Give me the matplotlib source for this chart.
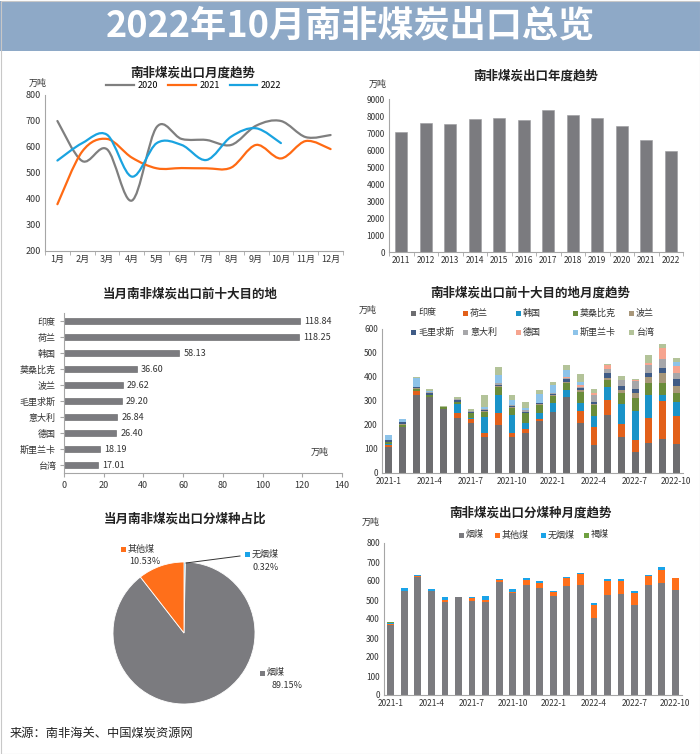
import numpy as np
import matplotlib
matplotlib.use('Agg')
import matplotlib.pyplot as plt
from matplotlib.path import Path
from matplotlib.patches import PathPatch, Rectangle
from matplotlib.lines import Line2D

plt.rcParams['font.family'] = ['Noto Sans CJK SC', 'DejaVu Sans']

W, H = 700, 754

# ---------------- data ----------------
months = ['1月', '2月', '3月', '4月', '5月', '6月', '7月', '8月', '9月', '10月', '11月', '12月']
exp_2020 = [700, 546, 591, 394, 677, 631, 627, 608, 682, 700, 638, 646]
exp_2021 = [380, 583, 631, 559, 518, 519, 518, 521, 608, 556, 623, 592]
exp_2022 = [548, 615, 647, 486, 615, 608, 550, 640, 672, 615]

years = ['2011', '2012', '2013', '2014', '2015', '2016', '2017', '2018', '2019', '2020', '2021', '2022']
annual = [7030, 7600, 7550, 7800, 7900, 7750, 8350, 8050, 7900, 7430, 6580, 5960]

dest_names = ['印度', '荷兰', '韩国', '莫桑比克', '波兰', '毛里求斯', '意大利', '德国', '斯里兰卡', '台湾']
dest_values = [118.84, 118.25, 58.13, 36.60, 29.62, 29.20, 26.84, 26.40, 18.19, 17.01]

trend_months = ['2021-1', '2021-2', '2021-3', '2021-4', '2021-5', '2021-6', '2021-7', '2021-8',
                '2021-9', '2021-10', '2021-11', '2021-12', '2022-1', '2022-2', '2022-3', '2022-4',
                '2022-5', '2022-6', '2022-7', '2022-8', '2022-9', '2022-10']
india     = [110, 190, 325, 315, 268, 230, 208, 148, 202, 148, 165, 215, 253, 317, 210, 118, 240, 150, 87, 123, 143, 118.84]
netherl   = [8, 0, 15, 0, 0, 20, 15, 20, 47, 20, 17, 8, 0, 0, 48, 73, 65, 55, 50, 107, 155, 118.25]
korea     = [3, 2, 0, 0, 0, 39, 7, 65, 78, 72, 28, 28, 37, 27, 32, 45, 52, 82, 122, 95, 27, 58.13]
mozamb    = [8, 10, 10, 10, 5, 7, 18, 22, 30, 32, 38, 32, 30, 33, 47, 48, 32, 45, 52, 52, 48, 36.60]
poland    = [2, 2, 3, 2, 0, 0, 3, 3, 5, 3, 3, 3, 5, 3, 8, 3, 8, 15, 22, 22, 45, 29.62]
mauritius = [5, 8, 5, 8, 4, 9, 4, 3, 5, 4, 5, 4, 5, 12, 10, 8, 18, 15, 18, 17, 18, 29.20]
italy     = [2, 2, 2, 3, 0, 3, 3, 5, 8, 4, 5, 2, 5, 2, 5, 30, 18, 25, 33, 35, 38, 26.84]
germany   = [0, 0, 0, 0, 0, 0, 0, 0, 0, 0, 0, 0, 0, 4, 8, 8, 17, 0, 5, 8, 48, 26.40]
srilanka  = [20, 10, 37, 3, 0, 2, 2, 10, 33, 22, 8, 38, 32, 33, 12, 2, 0, 0, 0, 0, 0, 18.19]
taiwan    = [2, 2, 2, 10, 2, 5, 7, 47, 32, 18, 26, 17, 13, 18, 33, 15, 5, 18, 2, 33, 15, 17.01]

coal_types = ['烟煤', '其他煤', '无烟煤', '褐煤']
bitum   = [367, 550, 620, 550, 490, 515, 495, 490, 597, 537, 580, 563, 523, 572, 578, 403, 527, 532, 475, 578, 588, 551]
other   = [6, 0, 8, 0, 12, 0, 18, 8, 8, 5, 24, 25, 17, 42, 57, 70, 73, 70, 63, 50, 72, 65]
anth    = [5, 15, 4, 10, 15, 3, 5, 25, 5, 17, 12, 10, 10, 6, 8, 12, 13, 8, 12, 5, 13, 2]
lignite = [6, 0, 0, 0, 0, 0, 0, 0, 0, 0, 0, 0, 0, 0, 0, 0, 0, 0, 0, 0, 0, 0]

pie_labels = ['无烟煤', '烟煤', '其他煤']
pie_values = [0.32, 89.15, 10.53]

# ---------------- styles ----------------
C_GRAY = '#7b7b7f'
C_2020 = '#7f7f7f'
C_2021 = '#ff6a13'
C_2022 = '#1aa3e0'
dest_colors = ['#6d6d70', '#e2601a', '#1a93c8', '#6a8c3a', '#a8977a',
               '#3f5b86', '#a7a7aa', '#f6a48f', '#8dc3e9', '#b3c399']
coal_colors = ['#7b7b7f', '#ff6f1a', '#1aa3e8', '#6fa040']
SPINE = '#a6a6a6'
TXT = '#333333'
TITLE_FS = 9

fig = plt.figure(figsize=(W / 100, H / 100), dpi=100)
fig.patch.set_facecolor('white')


def add_ax(x0, y0, x1, y1):
    return fig.add_axes([x0 / W, 1 - y1 / H, (x1 - x0) / W, (y1 - y0) / H])


def ftext(x, y, s, **kw):
    return fig.text(x / W, 1 - y / H, s, **kw)


def style(ax, fs=6):
    for s in ['top', 'right']:
        ax.spines[s].set_visible(False)
    for s in ['left', 'bottom']:
        ax.spines[s].set_color(SPINE)
        ax.spines[s].set_linewidth(0.8)
    ax.tick_params(axis='both', labelsize=fs, colors=TXT, length=0, pad=3)
    ax.tick_params(axis='both', which='both', color=SPINE)
    ax.set_facecolor('none')


def cat_ticks(ax, n):
    ax.set_xticks(np.arange(n + 1) - 0.5, minor=True)
    ax.tick_params(axis='x', which='minor', length=3, color=SPINE)


def fig_legend_square(x, y, color, label, fs=6.5):
    fig.add_artist(Rectangle(((x - 2.5) / W, 1 - (y + 2.5) / H), 5 / W, 5 / H,
                             transform=fig.transFigure, facecolor=color, edgecolor='none'))
    ftext(x + 5, y, label, fontsize=fs, color=TXT, va='center', ha='left')


# banner
fig.add_artist(Rectangle((0, 1 - 51 / H), 1, 50 / H, transform=fig.transFigure,
                         facecolor='#8ea9c7', edgecolor='none'))
ftext(350, 26, '2022年10月南非煤炭出口总览', fontsize=26, color='white',
      ha='center', va='center', fontweight='bold')
fig.add_artist(Rectangle((0.5 / W, 0.5 / H), (W - 1) / W, (H - 1) / H, transform=fig.transFigure,
                         facecolor='none', edgecolor='#c8c8c8', linewidth=0.8))


# ---------------- panel 1: monthly lines ----------------
def smooth_path(xs, ys):
    pts = np.column_stack([xs, ys]).astype(float)
    n = len(pts)
    verts = [pts[0]]
    codes = [Path.MOVETO]
    for i in range(n - 1):
        p0 = pts[i - 1] if i > 0 else pts[i]
        p1 = pts[i]
        p2 = pts[i + 1]
        p3 = pts[i + 2] if i + 2 < n else pts[i + 1]
        verts += [p1 + (p2 - p0) / 6, p2 - (p3 - p1) / 6, p2]
        codes += [Path.CURVE4] * 3
    return Path(verts, codes)


ax1 = add_ax(45, 95, 343, 251)
style(ax1, 6.5)
ax1.set_xlim(-0.5, 11.5)
ax1.set_ylim(200, 800)
ax1.set_yticks(np.arange(200, 801, 100))
ax1.set_xticks(np.arange(12))
ax1.set_xticklabels(months)
cat_ticks(ax1, 12)
handles = []
for vals, col, lab in [(exp_2020, C_2020, '2020'), (exp_2021, C_2021, '2021'), (exp_2022, C_2022, '2022')]:
    xs = np.arange(len(vals))
    ax1.add_patch(PathPatch(smooth_path(xs, vals), facecolor='none', edgecolor=col, linewidth=1.6,
                            capstyle='round', joinstyle='round'))
    handles.append(Line2D([], [], color=col, linewidth=1.6, label=lab))
ax1.legend(handles=handles, ncol=3, loc='lower center', bbox_to_anchor=(0.5, 1.0), frameon=False,
           fontsize=6.5, handlelength=3.0, columnspacing=1.2, borderaxespad=0.1, handletextpad=0.4)
ftext(193, 73, '南非煤炭出口月度趋势', fontsize=TITLE_FS, fontweight='bold', ha='center', va='center', color='#222222')
ftext(38, 83, '万吨', fontsize=6.5, ha='center', va='center', color=TXT)

# ---------------- panel 2: annual bars ----------------
ax2 = add_ax(389, 99, 683, 252)
style(ax2, 6)
x2 = np.arange(len(years))
ax2.bar(x2, annual, width=0.5, color=C_GRAY, edgecolor='#9a9a9e', linewidth=0.4)
ax2.set_xlim(-0.5, len(years) - 0.5)
ax2.set_ylim(0, 9000)
ax2.set_yticks(np.arange(0, 9001, 1000))
ax2.set_xticks(x2)
ax2.set_xticklabels(years)
cat_ticks(ax2, len(years))
ftext(536, 76, '南非煤炭出口年度趋势', fontsize=TITLE_FS, fontweight='bold', ha='center', va='center', color='#222222')
ftext(378, 84, '万吨', fontsize=6.5, ha='center', va='center', color=TXT)

# ---------------- panel 3: top10 horizontal ----------------
ax3 = add_ax(64, 313, 342, 473)
style(ax3, 6.5)
y3 = np.arange(len(dest_names))
ax3.barh(y3, dest_values, height=0.42, color=C_GRAY, edgecolor='#5f5f62', linewidth=0.4)
ax3.set_ylim(len(dest_names) - 0.5, -0.5)
ax3.set_xlim(0, 140)
ax3.set_xticks(np.arange(0, 141, 20))
ax3.set_yticks(y3)
ax3.set_yticklabels(dest_names)
ax3.tick_params(axis='y', which='major', length=3, color=SPINE)
ax3.tick_params(axis='x', which='major', length=3, color=SPINE)
for yi, v in zip(y3, dest_values):
    ax3.text(v + 2, yi, f'{v:.2f}', fontsize=6.5, va='center', ha='left', color=TXT)
ftext(190, 294, '当月南非煤炭出口前十大目的地', fontsize=TITLE_FS, fontweight='bold', ha='center', va='center', color='#222222')
ftext(320, 452, '万吨', fontsize=6.5, ha='center', va='center', color=TXT)

# ---------------- panel 4: top10 monthly stacked ----------------
ax4 = add_ax(382, 329, 683, 473)
style(ax4, 6)
x4 = np.arange(len(trend_months))
series4 = [india, netherl, korea, mozamb, poland, mauritius, italy, germany, srilanka, taiwan]
bottom = np.zeros(len(trend_months))
for vals, col in zip(series4, dest_colors):
    vals = np.array(vals, dtype=float)
    ax4.bar(x4, vals, bottom=bottom, width=0.5, color=col, edgecolor='none')
    bottom += vals
ax4.set_xlim(-0.5, len(trend_months) - 0.5)
ax4.set_ylim(0, 600)
ax4.set_yticks(np.arange(0, 601, 100))
ax4.set_xticks(x4[::3])
ax4.set_xticklabels(trend_months[::3])
ftext(530, 293, '南非煤炭出口前十大目的地月度趋势', fontsize=TITLE_FS, fontweight='bold', ha='center', va='center', color='#222222')
ftext(368, 310, '万吨', fontsize=6.5, ha='center', va='center', color=TXT)
lx = [413, 465, 518, 575, 631]
for i, (name, col) in enumerate(zip(dest_names, dest_colors)):
    fig_legend_square(lx[i % 5], 313 if i < 5 else 332, col, name)

# ---------------- panel 5: pie ----------------
ax5 = add_ax(113, 562, 255, 704)
ax5.pie(pie_values, colors=['#1aa3e8', '#7b7b7f', '#ff6f1a'], startangle=90, counterclock=False,
        radius=1.0, wedgeprops=dict(edgecolor='white', linewidth=0.6))
ax5.set_xlim(-1, 1)
ax5.set_ylim(-1, 1)
ax5.set_aspect('equal')
ax5.axis('off')
ftext(185, 519, '当月南非煤炭出口分煤种占比', fontsize=TITLE_FS, fontweight='bold', ha='center', va='center', color='#222222')
fig_legend_square(123, 549, '#ff6f1a', pie_labels[2], fs=6.5)
ftext(145, 562, f'{pie_values[2]:.2f}%', fontsize=6.5, ha='center', va='center', color=TXT)
fig_legend_square(247, 554, '#1aa3e8', pie_labels[0], fs=6.5)
ftext(266, 567, f'{pie_values[0]:.2f}%', fontsize=6.5, ha='center', va='center', color=TXT)
fig_legend_square(262, 673, '#7b7b7f', pie_labels[1], fs=6.5)
ftext(287, 686, f'{pie_values[1]:.2f}%', fontsize=6.5, ha='center', va='center', color=TXT)
fig.add_artist(Line2D([186 / W, 240 / W], [1 - 563 / H, 1 - 556 / H], transform=fig.transFigure,
                      color='#333333', linewidth=0.7))

# ---------------- panel 6: coal type stacked ----------------
ax6 = add_ax(384, 543, 682, 695)
style(ax6, 6)
x6 = np.arange(len(trend_months))
bottom = np.zeros(len(trend_months))
for vals, col in zip([bitum, other, anth, lignite], coal_colors):
    vals = np.array(vals, dtype=float)
    ax6.bar(x6, vals, bottom=bottom, width=0.5, color=col, edgecolor='none')
    bottom += vals
ax6.set_xlim(-0.5, len(trend_months) - 0.5)
ax6.set_ylim(0, 800)
ax6.set_yticks(np.arange(0, 801, 100))
ax6.set_xticks(x6[::3])
ax6.set_xticklabels(trend_months[::3])
ftext(530, 513, '南非煤炭出口分煤种月度趋势', fontsize=TITLE_FS, fontweight='bold', ha='center', va='center', color='#222222')
ftext(371, 522, '万吨', fontsize=6.5, ha='center', va='center', color=TXT)
for xx, name, col in zip([461, 497, 543, 586], coal_types, coal_colors):
    fig_legend_square(xx, 535, col, name)

ftext(10, 733, '来源：南非海关、中国煤炭资源网', fontsize=8.8, ha='left', va='center', color='#222222')

fig.savefig('out.png', dpi=100)
